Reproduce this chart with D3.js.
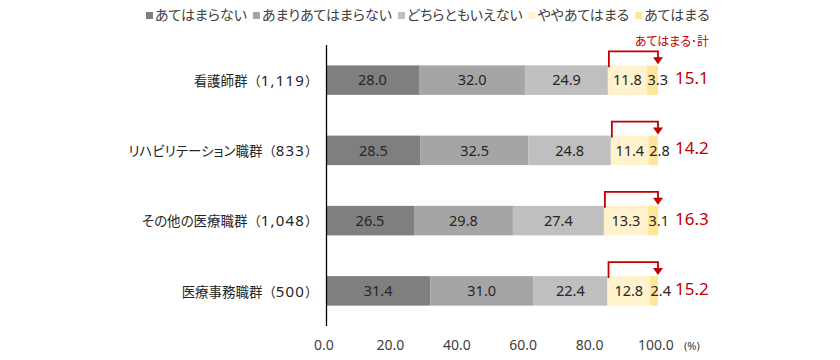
<!DOCTYPE html>
<html><head><meta charset="utf-8">
<script src="https://cdn.jsdelivr.net/npm/d3@7"></script>
<style>body{margin:0;background:#fff;} svg{display:block;font-family:"Noto Sans CJK JP","Noto Sans",sans-serif;}
.num{font-family:"Noto Sans","DejaVu Sans",sans-serif;}
.jp{font-feature-settings:"palt";}</style>
</head><body>
<svg id="c" width="840" height="360"></svg>
<script>
const groupNames = ["看護師群", "リハビリテーション職群", "その他の医療職群", "医療事務職群"];
const groupN = ["1,119", "833", "1,048", "500"];
const seriesNames = ["あてはまらない", "あまりあてはまらない", "どちらともいえない", "ややあてはまる", "あてはまる"];
const notApply = [28.0, 28.5, 26.5, 31.4];
const ratherNot = [32.0, 32.5, 29.8, 31.0];
const neutral = [24.9, 24.8, 27.4, 22.4];
const somewhat = [11.8, 11.4, 13.3, 12.8];
const apply = [3.3, 2.8, 3.1, 2.4];
const totals = [15.1, 14.2, 16.3, 15.2];
const xTicks = [0, 20, 40, 60, 80, 100];
const colors = ["#7f7f7f", "#a5a5a5", "#bfbfbf", "#fff2cc", "#ffe699"];

const categories = groupNames.map((n, i) => n + "（" + groupN[i] + "）");
const series = [notApply, ratherNot, neutral, somewhat, apply];
const svg = d3.select("#c");
const x = d3.scaleLinear().domain([0, 100]).range([326, 658]);
const y = d3.scaleBand().domain(categories).range([45, 326]).paddingInner(0.58).paddingOuter(0.29);
const red = "#c00000";

const rows = categories.map((c, i) => {
  let acc = 0;
  return series.map((s, k) => { const v = s[i]; const r = {cat: c, k, v, x0: acc, x1: acc + v}; acc += v; return r; });
});

// bars
const g = svg.append("g");
rows.forEach(row => {
  g.selectAll(null).data(row).enter().append("rect")
    .attr("x", d => x(d.x0)).attr("width", d => x(d.x1) - x(d.x0))
    .attr("y", d => y(d.cat)).attr("height", y.bandwidth())
    .attr("fill", d => colors[d.k]);
  g.selectAll(null).data(row).enter().append("text").attr("class", "num")
    .attr("x", d => d.k === 4 ? x(d.x0) + 0.5 : (x(d.x0) + x(d.x1)) / 2)
    .attr("text-anchor", d => d.k === 4 ? "start" : "middle")
    .attr("y", d => y(d.cat) + y.bandwidth() / 2)
    .attr("dy", "0.36em").attr("font-size", 14.5).attr("fill", "#262626")
    .text(d => d.v.toFixed(1));
});

// axis line
svg.append("line").attr("x1", 326.5).attr("x2", 326.5).attr("y1", 45).attr("y2", 326).attr("stroke", "#000").attr("stroke-width", 1.3);

// category labels: Japanese part + wide number part
categories.forEach((c, i) => {
  const t = svg.append("text").attr("x", 318).attr("y", y(c) + y.bandwidth() / 2).attr("dy", "0.36em")
    .attr("text-anchor", "end").attr("fill", "#262626");
  t.append("tspan").attr("class", "jp").attr("font-size", 13.5).text(groupNames[i]);
  t.append("tspan").attr("font-size", 13).text("（");
  t.append("tspan").attr("class", "num").attr("font-size", 15).attr("letter-spacing", 1.2).text(groupN[i]);
  t.append("tspan").attr("font-size", 13).text("）");
});

// x tick labels
svg.selectAll(".tick").data(xTicks).enter().append("text").attr("class", "num")
  .attr("x", d => x(d) - 2).attr("y", 350).attr("text-anchor", "middle")
  .attr("font-size", 14).attr("fill", "#404040").text(d => d.toFixed(1));
svg.append("text").attr("class", "num").attr("x", 684).attr("y", 350).attr("font-size", 11).attr("fill", "#404040").text("(%)");

// brackets + totals
categories.forEach((c, i) => {
  const top = y(c);
  const xl = x(rows[i][3].x0) + 1, xr = x(100);
  const yh = top - 14;
  svg.append("path").attr("d", `M${xl},${top + 2}V${yh}H${xr}V${top - 7}`)
    .attr("fill", "none").attr("stroke", red).attr("stroke-width", 1.8);
  svg.append("path").attr("d", `M${xr - 5},${top - 8}L${xr + 5},${top - 8}L${xr},${top - 1}Z`).attr("fill", red);
  svg.append("text").attr("class", "num").attr("x", 675).attr("y", top + y.bandwidth() / 2 - 2).attr("dy", "0.36em")
    .attr("font-size", 17).attr("fill", red).text(totals[i].toFixed(1));
});
svg.append("text").attr("class", "jp").attr("x", 672).attr("y", 46).attr("text-anchor", "middle")
  .attr("font-size", 12).attr("fill", red).text("あてはまる･計");

// legend (sequential layout)
let lx = 146;
seriesNames.forEach((name, i) => {
  const lg = svg.append("g").attr("transform", `translate(${lx},20)`);
  lg.append("rect").attr("x", 0).attr("y", -8).attr("width", 7).attr("height", 7).attr("fill", colors[i]);
  const t = lg.append("text").attr("class", "jp").attr("x", 9).attr("y", 0).attr("font-size", 14).attr("fill", "#404040").text(name);
  lx += 9 + t.node().getComputedTextLength() + 6;
});
</script>
</body></html>
